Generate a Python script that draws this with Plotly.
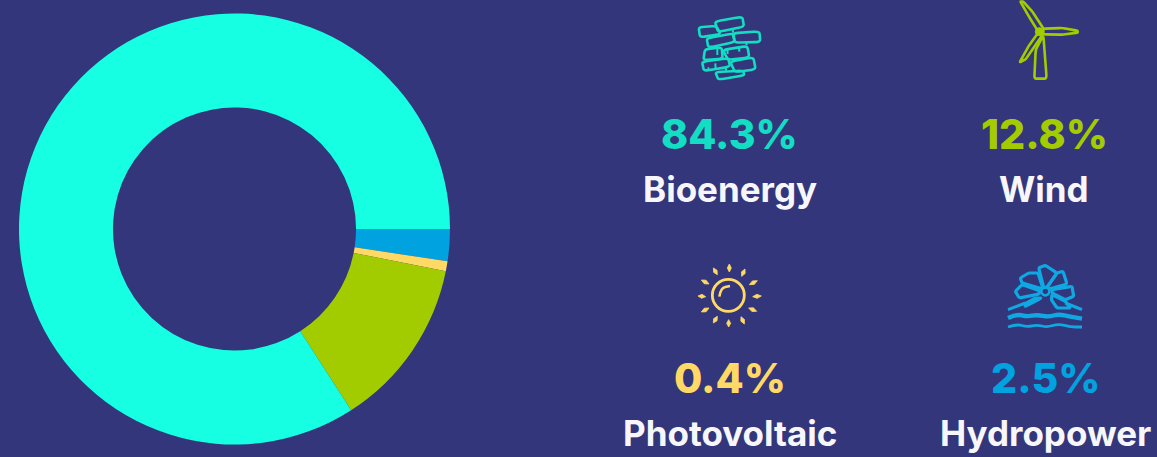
import plotly.graph_objects as go

W, H = 1157, 457

# Data
categories = ["Hydropower", "Photovoltaic", "Wind", "Bioenergy"]
# slice sizes as measured on the ring (the small yellow slice is drawn wider than its label)
slice_sizes = [2.4, 0.75, 12.75, 84.1]
slice_colors = ["#00A3E0", "#FFD966", "#A3CC00", "#17FFE2"]
label_colors = ["#00A3E0", "#FFD966", "#A3CC00", "#13DDC3"]
value_labels = ["2.5%", "0.4%", "12.8%", "84.3%"]
BG = "#33367A"
FONT = "Inter"


def fx(x):
    return x / W


def fy(y):
    return 1 - y / H


# text block positions (pixels): centre x, centre y of value, centre y of name
label_pos = {
    "Bioenergy": (729.5, 134, 189),
    "Wind": (1044, 134, 189),
    "Photovoltaic": (729.5, 378, 433),
    "Hydropower": (1045, 378, 433),
}

fig = go.Figure(
    go.Pie(
        labels=categories,
        values=slice_sizes,
        hole=0.564,
        sort=False,
        direction="clockwise",
        rotation=90,
        marker=dict(colors=slice_colors, line=dict(width=0)),
        textinfo="none",
        hoverinfo="label",
        showlegend=False,
        domain=dict(x=[fx(19), fx(450)], y=[fy(444.5), fy(13.5)]),
    )
)

annotations = []
for name, val, col in zip(categories, value_labels, label_colors):
    cx, vy, ny = label_pos[name]
    annotations.append(dict(
        x=fx(cx), y=fy(vy), xref="paper", yref="paper", text=val, showarrow=False,
        xanchor="center", yanchor="middle",
        font=dict(family=FONT, size=41, color=col, weight=800),
    ))
    annotations.append(dict(
        x=fx(cx), y=fy(ny), xref="paper", yref="paper", text=name, showarrow=False,
        xanchor="center", yanchor="middle",
        font=dict(family=FONT, size=35, color="#F7F7FB", weight=700),
    ))

shapes = []


def conv(ox, oy, pts):
    return [(ox + x / 3, oy + y / 3) for x, y in pts]


def straight(points, close=False):
    s = " ".join(("M" if i == 0 else "L") + f"{fx(x):.5f},{fy(y):.5f}" for i, (x, y) in enumerate(points))
    return s + (" Z" if close else "")


def smooth(points):
    segs = [f"M{fx(points[0][0]):.5f},{fy(points[0][1]):.5f}"]
    for i in range(1, len(points) - 1):
        mx = (points[i][0] + points[i + 1][0]) / 2
        my = (points[i][1] + points[i + 1][1]) / 2
        segs.append(f"Q{fx(points[i][0]):.5f},{fy(points[i][1]):.5f} {fx(mx):.5f},{fy(my):.5f}")
    segs.append(f"L{fx(points[-1][0]):.5f},{fy(points[-1][1]):.5f}")
    return " ".join(segs)


def rounded(pts, inset=0.22):
    """Closed outline with rounded corners."""
    n = len(pts)
    segs = []
    for i in range(n):
        prev, c, nxt = pts[i - 1], pts[i], pts[(i + 1) % n]
        a = (c[0] + (prev[0] - c[0]) * inset, c[1] + (prev[1] - c[1]) * inset)
        b = (c[0] + (nxt[0] - c[0]) * inset, c[1] + (nxt[1] - c[1]) * inset)
        segs.append(("M" if i == 0 else "L") + f"{fx(a[0]):.5f},{fy(a[1]):.5f}")
        segs.append(f"Q{fx(c[0]):.5f},{fy(c[1]):.5f} {fx(b[0]):.5f},{fy(b[1]):.5f}")
    return " ".join(segs) + " Z"


def add(path, color, width=2.0, fill=None):
    d = dict(type="path", xref="paper", yref="paper", path=path,
             line=dict(color=color, width=width), layer="above")
    if fill:
        d["fillcolor"] = fill
    shapes.append(d)


def disc(cx, cy, r, color, width, fill=None):
    d = dict(type="circle", xref="paper", yref="paper",
             x0=fx(cx - r), x1=fx(cx + r), y0=fy(cy + r), y1=fy(cy - r),
             line=dict(color=color, width=width), layer="above")
    if fill:
        d["fillcolor"] = fill
    shapes.append(d)


# --- bricks icon (decoration)
TEAL = "#13DDC3"
bricks = [
    [(26, 52), (78, 48), (92, 72), (30, 82)],
    [(128, 70), (208, 64), (211, 96), (135, 98)],
    [(74, 35), (157, 20), (162, 50), (85, 66)],
    [(50, 85), (130, 70), (134, 96), (55, 113)],
    [(45, 118), (95, 112), (98, 146), (40, 150)],
    [(98, 120), (172, 108), (178, 142), (115, 150)],
    [(120, 155), (190, 142), (197, 178), (135, 186)],
    [(76, 186), (160, 182), (163, 196), (85, 209)],
    [(36, 155), (115, 145), (120, 170), (42, 183)],
]
for b in bricks:
    add(rounded(conv(690, 10, b)), TEAL, 2.6)
drips = [
    ((82, 115), (82, 135)), ((112, 118), (113, 132)), ((147, 110), (148, 125)),
    ((76, 160), (77, 180)), ((55, 172), (56, 182)), ((168, 96), (170, 106)),
    ((108, 170), (108, 182)), ((128, 60), (130, 68)),
]
for a, b in drips:
    add(straight(conv(690, 10, [a, b])), TEAL, 2.0)

# --- turbine icon (decoration)
GREEN = "#A3CC00"
blades = [
    [(100, 95), (72, 50), (46, 5), (55, 5), (82, 35), (117, 88)],
    [(115, 86), (170, 84), (218, 92), (218, 98), (170, 104), (115, 103)],
    [(98, 100), (70, 140), (44, 187), (62, 178), (88, 140), (112, 105)],
    [(92, 150), (88, 236), (125, 236), (115, 105)],
]
for t in blades:
    add(rounded(conv(1005, 0, t), 0.12), GREEN, 2.6)
hx, hy = conv(1005, 0, [(103, 95)])[0]
disc(hx, hy, 4, GREEN, 1, GREEN)

# --- sun icon (decoration)
YEL = "#FFD966"
sx, sy = conv(690, 258, [(115, 112)])[0]
disc(sx, sy, 16, YEL, 2.8)
add(smooth(conv(690, 258, [(88, 116), (92, 90), (120, 84)])), YEL, 2.6)
rays = [
    ((118, 18), (118, 42)), ((70, 30), (82, 50)), ((165, 33), (155, 55)),
    ((34, 66), (57, 78)), ((202, 68), (178, 80)), ((24, 114), (47, 116)),
    ((214, 114), (188, 116)), ((34, 162), (57, 150)), ((200, 160), (176, 150)),
    ((70, 195), (82, 175)), ((163, 198), (153, 176)), ((116, 207), (116, 185)),
]
for a, b in rays:
    (x0, y0), (x1, y1) = conv(690, 258, [a, b])
    dx, dy = x1 - x0, y1 - y0
    ln = (dx * dx + dy * dy) ** 0.5
    nx, ny = -dy / ln * 2, dx / ln * 2
    mx, my = (x0 + x1) / 2, (y0 + y1) / 2
    add(straight([(x0, y0), (mx + nx, my + ny), (x1, y1), (mx - nx, my - ny)], close=True), YEL, 0.8, YEL)

# --- water wheel icon (decoration)
BLU = "#0FA8E2"
petals = [
    [(125, 88), (110, 30), (130, 22), (165, 45), (135, 88)],
    [(135, 88), (165, 45), (183, 40), (195, 78), (145, 92)],
    [(118, 92), (60, 75), (55, 60), (80, 45), (108, 45), (122, 88)],
    [(112, 108), (52, 120), (40, 100), (60, 80), (112, 98)],
    [(150, 95), (210, 85), (215, 115), (190, 125), (150, 105)],
    [(150, 110), (190, 130), (205, 150), (165, 150), (148, 125)],
    [(118, 120), (70, 145), (68, 138), (100, 120)],
]
for p in petals:
    add(rounded(conv(1002, 258, p), 0.15), BLU, 3.2)
hx, hy = conv(1002, 258, [(130, 100)])[0]
disc(hx, hy, 4, BLU, 2.6)
waves = [
    ([(18, 155), (45, 145), (70, 135)], 3),
    ([(190, 135), (215, 145), (240, 155)], 3),
    ([(18, 180), (45, 168), (75, 176), (105, 170), (140, 177), (170, 168), (205, 176), (240, 182)], 4.4),
    ([(18, 207), (45, 198), (75, 207), (105, 200), (135, 208), (170, 197), (205, 207), (240, 207)], 2.8),
]
for w, lw in waves:
    add(smooth(conv(1002, 258, w)), BLU, lw)

fig.update_layout(
    width=W, height=H,
    margin=dict(l=0, r=0, t=0, b=0),
    paper_bgcolor=BG, plot_bgcolor=BG,
    annotations=annotations, shapes=shapes,
    font=dict(family=FONT),
)

fig.write_html(
    "out.html",
    config={"displayModeBar": False},
    post_script="document.body.style.margin='0';document.body.style.background='%s';" % BG,
)
